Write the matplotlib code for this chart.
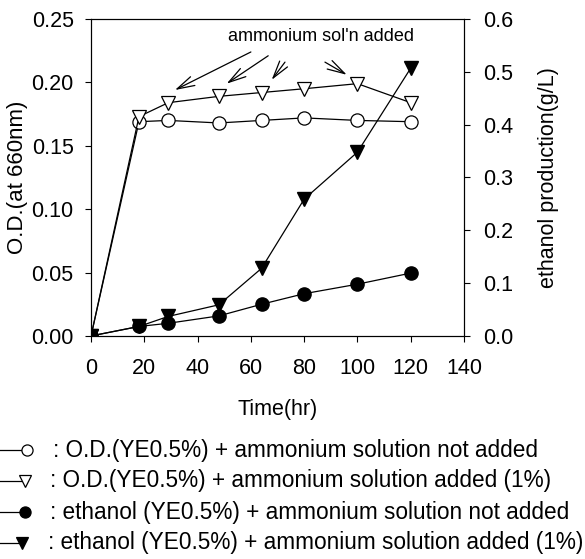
import matplotlib.pyplot as plt
from matplotlib.lines import Line2D

plt.rcParams['font.family'] = ['Liberation Sans', 'DejaVu Sans']

# sampling times (hr)
t_od = [0, 18, 29, 48, 64, 80, 100, 120]
t_eth = [0, 18, 29, 48, 64, 80, 100, 120]

# optical density, left axis
od_no_nh4 = [0.0, 0.169, 0.170, 0.168, 0.170, 0.172, 0.170, 0.169]
od_nh4 = [0.0, 0.173, 0.184, 0.189, 0.192, 0.195, 0.199, 0.184]

# ethanol (g/L), right axis
eth_no_nh4 = [0.0, 0.018, 0.024, 0.038, 0.060, 0.080, 0.098, 0.119]
eth_nh4 = [0.0, 0.018, 0.037, 0.059, 0.128, 0.259, 0.348, 0.507]

# arrows showing when ammonium solution was added: (tail x, tail y, head x, head y)
arrow_tails = [(60, 0.224), (66.5, 0.221), (72.8, 0.216), (87.8, 0.216)]
arrow_heads = [(31.5, 0.194), (50.9, 0.199), (67.8, 0.202), (96, 0.206)]

legend_labels = [
    ": O.D.(YE0.5%) + ammonium solution not added",
    ": O.D.(YE0.5%) + ammonium solution added (1%)",
    ": ethanol (YE0.5%) + ammonium solution not added",
    ": ethanol (YE0.5%) + ammonium solution added (1%)",
]

fig = plt.figure(figsize=(5.85, 5.59), dpi=100)
ax = fig.add_axes([0.1556, 0.399, 0.6376, 0.567])
ax2 = ax.twinx()

lw = 0.9
ax.plot(t_od, od_no_nh4, color='black', lw=lw, marker='o', ms=9.5,
        mfc='white', mec='black', mew=0.9, zorder=3)
ax.plot(t_od, od_nh4, color='black', lw=lw, marker='v', ms=10.5,
        mfc='white', mec='black', mew=0.9, zorder=3)
ax2.plot(t_eth, eth_nh4, color='black', lw=lw, marker='v', ms=10.5,
         mfc='black', mec='black', zorder=3)
ax2.plot(t_eth, eth_no_nh4, color='black', lw=lw, marker='o', ms=9.5,
         mfc='black', mec='black', zorder=3)

ax.set_xlim(0, 140)
ax.set_ylim(0, 0.25)
ax2.set_ylim(0, 0.6)
ax.set_xticks(range(0, 141, 20))
ax.set_yticks([0, 0.05, 0.10, 0.15, 0.20, 0.25])
ax.set_yticklabels(['0.00', '0.05', '0.10', '0.15', '0.20', '0.25'])
ax2.set_yticks([0, 0.1, 0.2, 0.3, 0.4, 0.5, 0.6])
ax2.set_yticklabels(['0.0', '0.1', '0.2', '0.3', '0.4', '0.5', '0.6'])

fs = 15.5
for a in (ax, ax2):
    a.tick_params(direction='out', length=4, width=0.8, labelsize=fs)
    for s in a.spines.values():
        s.set_linewidth(0.8)
ax.tick_params(axis='x', pad=12)
ax.tick_params(axis='y', pad=8.5)
ax2.tick_params(axis='y', pad=10)

ax.set_xlabel('Time(hr)', fontsize=fs, va='center')
ax.xaxis.set_label_coords(0.5, (336 - 410) / 317)
ax.set_ylabel('O.D.(at 660nm)', fontsize=16, va='center')
ax.yaxis.set_label_coords((17.5 - 91) / 373, 0.5)
ax2.set_ylabel('ethanol production(g/L)', fontsize=fs, va='center')
ax2.yaxis.set_label_coords((548 - 91) / 373, 0.5)

for (x0, y0), (x1, y1) in zip(arrow_tails, arrow_heads):
    ax.annotate('', xy=(x1, y1), xytext=(x0, y0),
                arrowprops=dict(arrowstyle='->, head_length=0.9, head_width=0.25',
                                color='black', lw=0.9, mutation_scale=14,
                                shrinkA=0, shrinkB=0))
ax.text(86.5, 0.236, "ammonium sol'n added", fontsize=13,
        ha='center', va='center')

# legend drawn by hand below the axes
markers = [('o', 'white'), ('v', 'white'), ('o', 'black'), ('v', 'black')]
rows_px = [450, 481, 512, 543]
text_x_px = [53, 50, 50, 48]
marker_x_px = [27, 25, 25, 22]
for (m, fc), ypx, tx, mx, label in zip(markers, rows_px, text_x_px,
                                       marker_x_px, legend_labels):
    y = 1 - ypx / 559
    fig.add_artist(Line2D([0.0, mx / 585], [y, y], color='black', lw=lw,
                          transform=fig.transFigure))
    fig.add_artist(Line2D([mx / 585], [y], marker=m, ms=8,
                          mfc=fc, mec='black', mew=0.9, ls='none',
                          transform=fig.transFigure))
    fig.text(tx / 585, y, label, fontsize=16.3, ha='left', va='center')

fig.savefig('out.png', dpi=100)
